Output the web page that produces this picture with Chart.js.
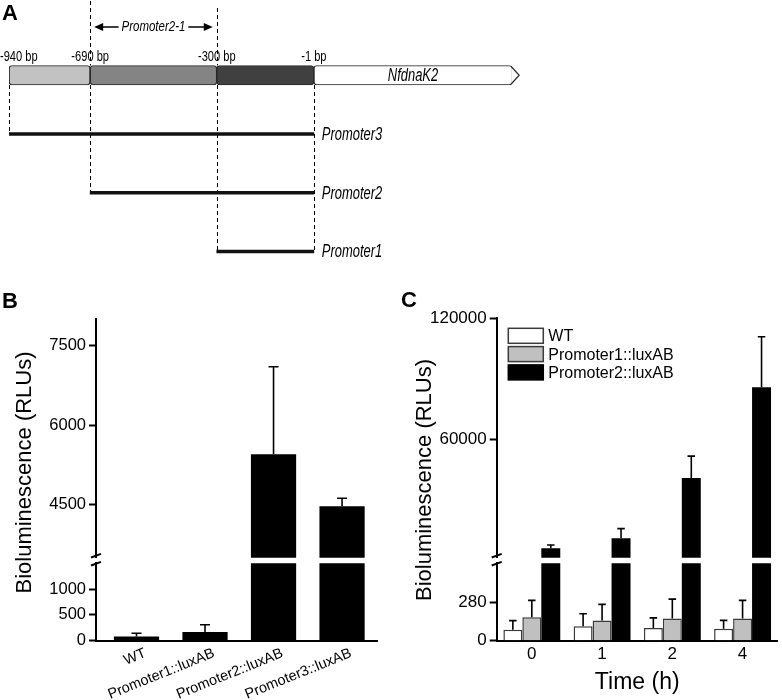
<!DOCTYPE html>
<html>
<head>
<meta charset="utf-8">
<script src="https://cdn.jsdelivr.net/npm/chart.js@4.4.1/dist/chart.umd.min.js"></script>
<style>
  body { margin: 0; background: #fff; }
  #fig { position: relative; width: 782px; height: 700px; overflow: hidden; }
  #fig canvas { position: absolute; }
  .tag { position: absolute; font: bold 22px 'Liberation Sans', Arial, sans-serif; line-height: 1; color: #000; }
</style>
</head>
<body>
<div id="fig">
  <canvas id="geneMap" width="782" height="280" style="left:0px;top:0px"></canvas>
  <canvas id="bTop" width="400" height="420" style="left:0px;top:280px"></canvas>
  <canvas id="bBottom" width="400" height="420" style="left:0px;top:280px"></canvas>
  <canvas id="cTop" width="382" height="420" style="left:400px;top:280px"></canvas>
  <canvas id="cBottom" width="382" height="420" style="left:400px;top:280px"></canvas>
  <div class="tag" style="left:2px;top:2px">A</div>
  <div class="tag" style="left:2px;top:290px">B</div>
  <div class="tag" style="left:401px;top:289px">C</div>
</div>
<script>
// ---- panel A: promoter map (positions in bp) ----
const segmentEdges = [-940, -690, -300, -1];
const geneEnd = 610;
const geneName = 'NfdnaK2';
const promoterNames = ['Promoter3', 'Promoter2', 'Promoter1'];
const promoterStarts = [-940, -690, -300];
const promoterEnd = -1;
const promoter21 = [-690, -300];
const promoter21Name = 'Promoter2-1';

// ---- panel B ----
const bStrains = ['WT', 'Promoter1::luxAB', 'Promoter2::luxAB', 'Promoter3::luxAB'];
const bMeans = [80, 170, 5450, 4470];
const bErrors = [65, 140, 1650, 150];
const bTicksTop = [4500, 6000, 7500];
const bTicksBottom = [0, 500, 1000];
const bRangeTop = [3500, 8000];
const bRangeBottom = [0, 1500];

// ---- panel C ----
const cTimes = ['0', '1', '2', '4'];
const cSeries = ['WT', 'Promoter1::luxAB', 'Promoter2::luxAB'];
const cWT = [80, 105, 91, 86];
const cWTErr = [65, 90, 74, 61];
const cP1 = [170, 146, 161, 161];
const cP1Err = [122, 117, 140, 131];
const cP2 = [5700, 10650, 40600, 85700];
const cP2Err = [1650, 4800, 10900, 25100];
const cTicksTop = [60000, 120000];
const cTicksBottom = [0, 280];
const cRangeTop = [1000, 120000];
const cRangeBottom = [0, 560];

const SANS = "'Liberation Sans', Arial, sans-serif";
Chart.defaults.color = '#000';
Chart.defaults.font.family = SANS;

const TRACK_H = 19.5;
const CONDENSE = 0.74;

// condensed text, like the narrow face of the original map
function narrowText(ctx, text, x, y) {
  ctx.save();
  ctx.translate(x, y);
  ctx.scale(CONDENSE, 1);
  ctx.fillText(text, 0, 0);
  ctx.restore();
}

// dashed guides, labels and arrows of the promoter map
const geneMapPlugin = {
  id: 'geneMap',
  beforeDatasetsDraw(chart) {
    const { ctx, scales: { x, y } } = chart;
    const trackTop = y.getPixelForValue(0) - TRACK_H / 2;
    const trackBottom = y.getPixelForValue(0) + TRACK_H / 2;
    ctx.save();
    ctx.setLineDash([4, 3]);
    ctx.lineWidth = 1;
    ctx.strokeStyle = '#000';
    const guide = (bp, y0, y1) => {
      const px = Math.round(x.getPixelForValue(bp)) + 0.5;
      ctx.beginPath();
      ctx.moveTo(px, y0);
      ctx.lineTo(px, y1);
      ctx.stroke();
    };
    promoterStarts.forEach((s, i) => guide(s, trackBottom, y.getPixelForValue(i + 1)));
    guide(promoterEnd, trackBottom, y.getPixelForValue(promoterStarts.length));
    promoter21.forEach((bp, i) => guide(bp, i ? 8 : 1, trackTop));
    ctx.restore();
  },
  afterDatasetsDraw(chart) {
    const { ctx, scales: { x, y } } = chart;
    const rowY = y.getPixelForValue(0);
    const trackTop = rowY - TRACK_H / 2;
    ctx.save();
    ctx.fillStyle = '#000';

    // bp labels over the region edges
    ctx.font = '15px ' + SANS;
    ctx.textAlign = 'center';
    ctx.textBaseline = 'alphabetic';
    segmentEdges.forEach(bp => {
      const label = bp + ' bp';
      const w = ctx.measureText(label).width * CONDENSE;
      let px = x.getPixelForValue(bp);
      if (px - w / 2 < 0) px = w / 2;
      narrowText(ctx, label, px, trackTop - 5);
    });

    // gene arrow tip and name
    const gx0 = x.getPixelForValue(promoterEnd);
    const gx1 = x.getPixelForValue(geneEnd);
    ctx.beginPath();
    ctx.moveTo(gx1 - 1, trackTop + 1);
    ctx.lineTo(gx1 + 7, rowY);
    ctx.lineTo(gx1 - 1, trackTop + TRACK_H - 1);
    ctx.fillStyle = '#fff';
    ctx.fill();
    ctx.strokeStyle = '#2a2a2a';
    ctx.lineWidth = 1.2;
    ctx.stroke();
    ctx.fillStyle = '#000';
    ctx.font = 'italic 17.5px ' + SANS;
    ctx.textBaseline = 'middle';
    narrowText(ctx, geneName, (gx0 + gx1) / 2, rowY + 1);

    // construct names
    ctx.textAlign = 'left';
    promoterNames.forEach((name, i) => {
      narrowText(ctx, name, gx0 + 8, y.getPixelForValue(i + 1) + 1);
    });

    // Promoter2-1 double arrow
    const ax0 = x.getPixelForValue(promoter21[0]) + 4;
    const ax1 = x.getPixelForValue(promoter21[1]) - 4;
    const ay = 27;
    ctx.font = 'italic 15.5px ' + SANS;
    ctx.textAlign = 'center';
    const mid = (ax0 + ax1) / 2;
    const tw = ctx.measureText(promoter21Name).width * CONDENSE;
    narrowText(ctx, promoter21Name, mid, ay);
    ctx.strokeStyle = '#000';
    ctx.lineWidth = 1.5;
    ctx.beginPath();
    ctx.moveTo(ax0 + 6, ay); ctx.lineTo(mid - tw / 2 - 3, ay);
    ctx.moveTo(mid + tw / 2 + 3, ay); ctx.lineTo(ax1 - 6, ay);
    ctx.stroke();
    ctx.beginPath();
    ctx.moveTo(ax0, ay); ctx.lineTo(ax0 + 9, ay - 4); ctx.lineTo(ax0 + 9, ay + 4); ctx.closePath();
    ctx.moveTo(ax1, ay); ctx.lineTo(ax1 - 9, ay - 4); ctx.lineTo(ax1 - 9, ay + 4); ctx.closePath();
    ctx.fill();
    ctx.restore();
  }
};

// one-sided error bars, clipped to the chart area
const errorBars = {
  id: 'errorBars',
  afterDatasetsDraw(chart, args, opts) {
    const { ctx, chartArea, scales } = chart;
    ctx.save();
    ctx.beginPath();
    ctx.rect(chartArea.left, chartArea.top - 1, chartArea.width, chartArea.height + 1);
    ctx.clip();
    ctx.strokeStyle = '#000';
    ctx.lineWidth = opts.lineWidth;
    chart.data.datasets.forEach((ds, i) => {
      if (!ds.errors) return;
      const meta = chart.getDatasetMeta(i);
      meta.data.forEach((bar, j) => {
        const v = meta.controller.getParsed(j).y;
        const top = scales.y.getPixelForValue(v + ds.errors[j]);
        ctx.beginPath();
        ctx.moveTo(bar.x, bar.y);
        ctx.lineTo(bar.x, top);
        ctx.moveTo(bar.x - opts.cap / 2, top);
        ctx.lineTo(bar.x + opts.cap / 2, top);
        ctx.stroke();
      });
    });
    ctx.restore();
  }
};

// y title shared by the two halves of a broken axis
const sideTitle = {
  id: 'sideTitle',
  afterDraw(chart, args, opts) {
    const ctx = chart.ctx;
    ctx.save();
    ctx.translate(opts.x, opts.y);
    ctx.rotate(-Math.PI / 2);
    ctx.font = opts.size + 'px ' + SANS;
    ctx.fillStyle = '#000';
    ctx.textAlign = 'center';
    ctx.textBaseline = 'middle';
    ctx.fillText(opts.text, 0, 0);
    ctx.restore();
  }
};

// the // marks on the y axis
const axisBreak = {
  id: 'axisBreak',
  afterDraw(chart) {
    const { ctx, chartArea } = chart;
    const x = chartArea.left;
    ctx.save();
    ctx.strokeStyle = '#000';
    ctx.lineWidth = 2;
    [chartArea.top - 7.6, chartArea.top + 0.4].forEach(c => {
      ctx.beginPath();
      ctx.moveTo(x - 5, c + 1.8);
      ctx.lineTo(x + 5, c - 1.8);
      ctx.stroke();
    });
    ctx.restore();
  }
};

// legend boxes inside the plot of panel C
const boxLegend = {
  id: 'boxLegend',
  afterDraw(chart, args, opts) {
    const { ctx, chartArea } = chart;
    ctx.save();
    ctx.font = '16px ' + SANS;
    ctx.textBaseline = 'middle';
    ctx.textAlign = 'left';
    chart.data.datasets.forEach((ds, i) => {
      const bx = chartArea.left + opts.dx;
      const by = chartArea.top + opts.dy + i * opts.row;
      ctx.fillStyle = ds.backgroundColor;
      ctx.fillRect(bx, by, opts.boxW, opts.boxH);
      ctx.strokeStyle = ds.borderWidth ? ds.borderColor : ds.backgroundColor;
      ctx.lineWidth = 1.5;
      ctx.strokeRect(bx, by, opts.boxW, opts.boxH);
      ctx.fillStyle = '#000';
      ctx.fillText(ds.label, bx + opts.boxW + 5, by + opts.boxH / 2 + 1);
    });
    ctx.restore();
  }
};

function yAxis(range, ticks, width, fontSize) {
  return {
    type: 'linear',
    min: range[0],
    max: range[1],
    afterBuildTicks: s => { s.ticks = ticks.map(v => ({ value: v })); },
    afterFit: s => { s.width = width; s.paddingTop = 0; s.paddingBottom = 0; },
    ticks: { callback: v => String(v), font: { size: fontSize }, padding: 3, color: '#000' },
    grid: { drawOnChartArea: false, tickLength: 7, tickWidth: 2, tickColor: '#000' },
    border: { color: '#000', width: 2 }
  };
}

function xFit(top) {
  return s => {
    if (!top) s.height = 59.3;
    s.paddingLeft = 0;
    s.paddingRight = 0;
  };
}

const common = {
  responsive: false,
  animation: false,
  events: []
};

// ---- panel A ----
const trackBars = segmentEdges.map((s, i) => ({ x: [s, i < segmentEdges.length - 1 ? segmentEdges[i + 1] : geneEnd], y: 0 }));
const promoterBars = promoterStarts.map((s, i) => ({ x: [s, promoterEnd], y: i + 1 }));

new Chart(document.getElementById('geneMap'), {
  type: 'bar',
  data: {
    datasets: [
      {
        label: 'regions', data: trackBars,
        backgroundColor: ['#c2c2c2', '#848484', '#404040', '#ffffff'],
        borderColor: '#2a2a2a', borderWidth: 1.2, borderSkipped: false, borderRadius: 3,
        barThickness: TRACK_H, grouped: false
      },
      {
        label: 'constructs', data: promoterBars,
        backgroundColor: '#111', borderWidth: 0, barThickness: 3, grouped: false
      }
    ]
  },
  options: {
    ...common,
    indexAxis: 'y',
    layout: { padding: { left: 9, right: 240.6, top: 16.5, bottom: 5 } },
    scales: {
      x: { type: 'linear', min: -940, max: 700, offset: false, display: false },
      y: { type: 'linear', min: -1, max: 3.4, reverse: true, offset: false, display: false }
    },
    plugins: { legend: { display: false }, tooltip: { enabled: false } }
  },
  plugins: [geneMapPlugin]
});

// ---- panel B ----
const bData = bMeans.map((v, i) => ({ x: i, y: v }));
function bConfig(top) {
  return {
    type: 'bar',
    data: {
      datasets: [{
        label: 'Bioluminescence', data: bData, errors: bErrors,
        backgroundColor: '#000', borderWidth: 0,
        barPercentage: 0.66, categoryPercentage: 1, clip: 0
      }]
    },
    options: {
      ...common,
      layout: { padding: top ? { left: 0, right: 23, top: 39, bottom: 142.3 } : { left: 0, right: 23, top: 283.3, bottom: 0 } },
      scales: {
        x: {
          type: 'linear', min: -0.591, max: 3.51, offset: false, display: !top,
          afterBuildTicks: s => { s.ticks = bStrains.map((c, i) => ({ value: i })); },
          afterFit: xFit(top),
          ticks: {
            callback: v => bStrains[v], font: { size: 14.5 },
            minRotation: 22, maxRotation: 22, padding: 4, labelOffset: 9, autoSkip: false
          },
          grid: { drawOnChartArea: false, drawTicks: false },
          border: { color: '#000', width: 2 }
        },
        y: yAxis(top ? bRangeTop : bRangeBottom, top ? bTicksTop : bTicksBottom, 96, 16.5)
      },
      plugins: {
        legend: { display: false }, tooltip: { enabled: false },
        errorBars: { cap: 10, lineWidth: 1.6 },
        sideTitle: { text: 'Bioluminescence (RLUs)', x: 25, y: 192.5, size: 22 }
      }
    },
    plugins: top ? [errorBars] : [errorBars, sideTitle, axisBreak]
  };
}
new Chart(document.getElementById('bTop'), bConfig(true));
new Chart(document.getElementById('bBottom'), bConfig(false));

// ---- panel C ----
function cConfig(top) {
  return {
    type: 'bar',
    data: {
      labels: cTimes,
      datasets: [
        { label: cSeries[0], data: cWT, errors: cWTErr, backgroundColor: '#ffffff', borderColor: '#3a3a3a', borderWidth: 1.5, clip: 0 },
        { label: cSeries[1], data: cP1, errors: cP1Err, backgroundColor: '#c0c0c0', borderColor: '#3a3a3a', borderWidth: 1.5, clip: 0 },
        { label: cSeries[2], data: cP2, errors: cP2Err, backgroundColor: '#000000', borderColor: '#000000', borderWidth: 0, clip: 0 }
      ]
    },
    options: {
      ...common,
      datasets: { bar: { barPercentage: 1, categoryPercentage: 0.81 } },
      layout: { padding: top ? { left: 0, right: 4.3, top: 38.3, bottom: 142.3 } : { left: 0, right: 4.3, top: 283.3, bottom: 0 } },
      scales: {
        x: {
          type: 'category', display: !top,
          afterFit: xFit(top),
          ticks: { font: { size: 17 }, padding: 3, maxRotation: 0 },
          grid: { drawOnChartArea: false, drawTicks: false },
          border: { color: '#000', width: 2 },
          title: { display: true, text: 'Time (h)', font: { size: 23 }, padding: { top: 0, bottom: 4 } }
        },
        y: yAxis(top ? cRangeTop : cRangeBottom, top ? cTicksTop : cTicksBottom, 96.7, 17)
      },
      plugins: {
        legend: { display: false }, tooltip: { enabled: false },
        errorBars: { cap: 7.5, lineWidth: 1.6 },
        sideTitle: { text: 'Bioluminescence (RLUs)', x: 25, y: 200, size: 22 },
        boxLegend: { dx: 11.6, dy: 10, row: 18.3, boxW: 35, boxH: 15 }
      }
    },
    plugins: top ? [errorBars, boxLegend] : [errorBars, sideTitle, axisBreak]
  };
}
new Chart(document.getElementById('cTop'), cConfig(true));
new Chart(document.getElementById('cBottom'), cConfig(false));
</script>
</body>
</html>
